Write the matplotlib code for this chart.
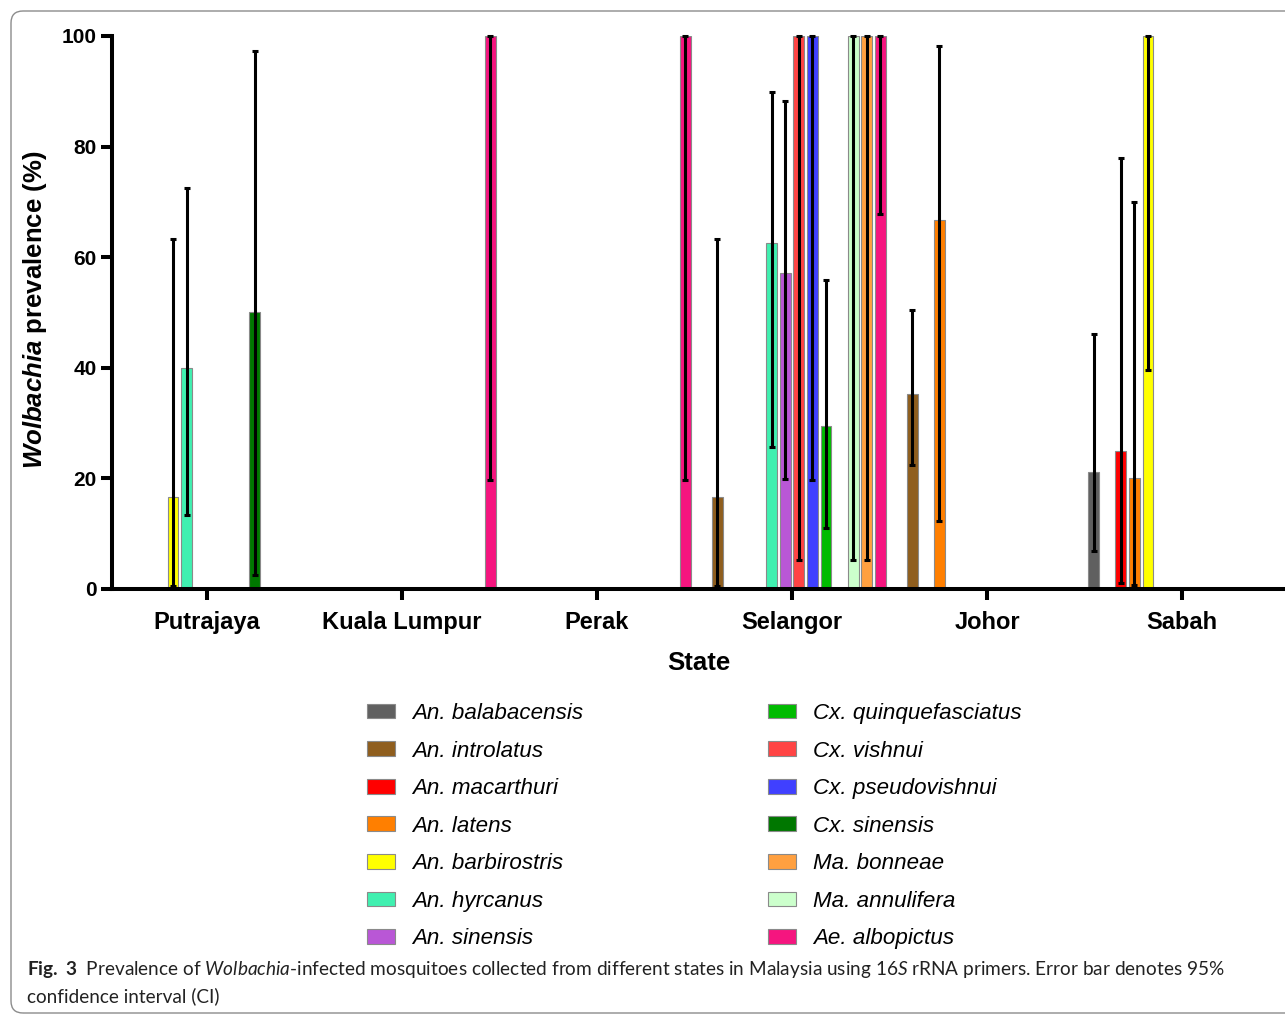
import numpy as np
import matplotlib
matplotlib.use('Agg')
import matplotlib.pyplot as plt
from matplotlib.patches import Patch, FancyBboxPatch

plt.rcParams['font.family'] = ['Liberation Sans', 'DejaVu Sans']
plt.rcParams['mathtext.fontset'] = 'custom'
plt.rcParams['mathtext.rm'] = 'Lato'
plt.rcParams['mathtext.it'] = 'Lato:italic'
plt.rcParams['mathtext.bf'] = 'Lato:bold'
plt.rcParams['mathtext.bfit'] = 'Liberation Sans:bold:italic'

states = ['Putrajaya', 'Kuala Lumpur', 'Perak', 'Selangor', 'Johor', 'Sabah']

# legend order
species = ['An. balabacensis', 'An. introlatus', 'An. macarthuri', 'An. latens',
           'An. barbirostris', 'An. hyrcanus', 'An. sinensis',
           'Cx. quinquefasciatus', 'Cx. vishnui', 'Cx. pseudovishnui', 'Cx. sinensis',
           'Ma. bonneae', 'Ma. annulifera', 'Ae. albopictus']
colors = ['#606060', '#8f5e1e', '#ff0000', '#ff7f00', '#ffff00', '#40f0b0', '#b957d6',
          '#00bb00', '#ff4444', '#4040ff', '#007700', '#ffa040', '#ccffcc', '#f5157f']
# position of each species inside a state group (bar order in the plot)
slots = [0, 1, 2, 3, 4, 5, 6, 9, 7, 8, 10, 12, 11, 13]

nan = np.nan
# prevalence (%) per state, nan = not collected / none
prev = [
    [nan, nan, nan, nan, nan, 21.1],
    [nan, nan, nan, 16.7, 35.3, nan],
    [nan, nan, nan, nan, nan, 25.0],
    [nan, nan, nan, nan, 66.7, 20.0],
    [16.7, nan, nan, nan, nan, 100],
    [40.0, nan, nan, 62.5, nan, nan],
    [nan, nan, nan, 57.1, nan, nan],
    [nan, nan, nan, 29.4, nan, nan],
    [nan, nan, nan, 100, nan, nan],
    [nan, nan, nan, 100, nan, nan],
    [50.0, nan, nan, nan, nan, nan],
    [nan, nan, nan, 100, nan, nan],
    [nan, nan, nan, 100, nan, nan],
    [nan, 100, 100, 100, nan, nan],
]
# 95% CI lower / upper
ci_low = [
    [nan, nan, nan, nan, nan, 6.8],
    [nan, nan, nan, 0.5, 22.4, nan],
    [nan, nan, nan, nan, nan, 1.0],
    [nan, nan, nan, nan, 12.3, 0.7],
    [0.5, nan, nan, nan, nan, 39.6],
    [13.4, nan, nan, 25.6, nan, nan],
    [nan, nan, nan, 19.9, nan, nan],
    [nan, nan, nan, 11.0, nan, nan],
    [nan, nan, nan, 5.3, nan, nan],
    [nan, nan, nan, 19.8, nan, nan],
    [2.5, nan, nan, nan, nan, nan],
    [nan, nan, nan, 5.3, nan, nan],
    [nan, nan, nan, 5.3, nan, nan],
    [nan, 19.8, 19.8, 67.8, nan, nan],
]
ci_high = [
    [nan, nan, nan, nan, nan, 46.1],
    [nan, nan, nan, 63.3, 50.5, nan],
    [nan, nan, nan, nan, nan, 78.0],
    [nan, nan, nan, nan, 98.2, 70.0],
    [63.3, nan, nan, nan, nan, 100],
    [72.5, nan, nan, 89.8, nan, nan],
    [nan, nan, nan, 88.2, nan, nan],
    [nan, nan, nan, 55.9, nan, nan],
    [nan, nan, nan, 100, nan, nan],
    [nan, nan, nan, 100, nan, nan],
    [97.3, nan, nan, nan, nan, nan],
    [nan, nan, nan, 100, nan, nan],
    [nan, nan, nan, 100, nan, nan],
    [nan, 100, 100, 100, nan, nan],
]

W, H = 1285, 1016
fig = plt.figure(figsize=(W / 100, H / 100), dpi=100)
ax = fig.add_axes([112 / W, 427 / H, (W - 112) / W, 553 / H])

pitch = 13.6 / 195
x = np.arange(len(states))
for i, name in enumerate(species):
    vals = np.array(prev[i])
    lo = np.array(ci_low[i])
    hi = np.array(ci_high[i])
    xs = x + (slots[i] - 6.5) * pitch
    ax.bar(xs, np.nan_to_num(vals), width=pitch * 0.78, color=colors[i],
           edgecolor='#8a8a8a', linewidth=0.8, zorder=2)
    ok = ~np.isnan(vals)
    ax.errorbar(xs[ok], vals[ok], yerr=[vals[ok] - lo[ok], hi[ok] - vals[ok]],
                fmt='none', ecolor='black', elinewidth=2.2, capsize=2.2,
                capthick=2.2, zorder=3, clip_on=False)

ax.set_xlim(-95 / 195, (W - 207) / 195)
ax.set_ylim(0, 100)
ax.set_yticks(range(0, 101, 20))
ax.set_xticks(x)
ax.set_xticklabels(states, fontsize=17, fontweight='bold')
for lab in ax.get_yticklabels():
    lab.set_fontsize(15)
    lab.set_fontweight('bold')
ax.tick_params(axis='both', width=2.9, length=8, color='black')
ax.tick_params(axis='y', pad=3)
ax.tick_params(axis='x', pad=8)
for s in ['top', 'right']:
    ax.spines[s].set_visible(False)
for s in ['left', 'bottom']:
    ax.spines[s].set_linewidth(2.9)

ax.set_xlabel('State', fontsize=18.5, fontweight='bold', labelpad=12)
ax.set_ylabel(r'$\mathbfit{Wolbachia}$ prevalence (%)', fontsize=18.5, fontweight='bold')
ax.yaxis.set_label_coords(-0.054, 0.505)

# legend, two columns
handles = [Patch(facecolor=c, edgecolor='#8a8a8a', linewidth=0.8) for c in colors]
leg_kw = dict(frameon=False, loc='upper left', borderpad=0, borderaxespad=0,
              handlelength=1.25, handleheight=0.63, handletextpad=0.76,
              labelspacing=0.74, prop={'size': 16.1, 'style': 'italic'})
fig.legend(handles[:7], species[:7], bbox_to_anchor=(367 / W, 1 - 703 / H), **leg_kw)
fig.legend(handles[7:], species[7:], bbox_to_anchor=(768 / W, 1 - 703 / H), **leg_kw)

# caption
fig.text(27 / W, 1 - 970 / H,
         r'$\mathbf{Fig.\ 3}$  Prevalence of $\mathit{Wolbachia}$-infected mosquitoes collected '
         r'from different states in Malaysia using $\mathit{16S}$ rRNA primers. Error bar denotes 95%',
         fontsize=13.7, family='Lato', color='#222222', va='center')
fig.text(27 / W, 1 - 996 / H, 'confidence interval (CI)',
         fontsize=13.7, family='Lato', color='#222222', va='center')

# panel frame
frame = FancyBboxPatch((0.11, 0.03), 13.5, 10.02,
                       boxstyle='round,pad=0,rounding_size=0.12',
                       transform=fig.dpi_scale_trans, facecolor='none',
                       edgecolor='#8c8c8c', linewidth=1.0)
fig.patches.append(frame)

fig.savefig('out.png', dpi=100)
